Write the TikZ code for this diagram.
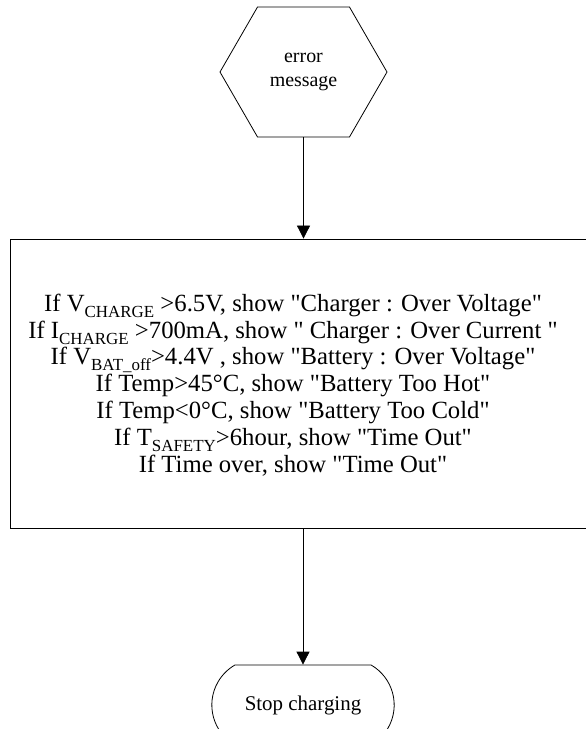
\documentclass[tikz,border=0pt]{standalone}
\usepackage{fontspec}
\setmainfont{Liberation Serif}
\usetikzlibrary{shapes.symbols,shapes.misc,arrows.meta}
\newcommand{\qt}{\textquotedbl}
\newcommand{\lowsub}[1]{\raisebox{-6bp}{\fontsize{17}{17}\selectfont #1}}

\begin{document}
\begin{tikzpicture}[x=1bp,y=-1bp,
    line width=.8bp,
    hexbox/.style={draw, signal, signal to=west and east, signal pointer angle=120,
        minimum width=167bp, minimum height=130bp, inner sep=0pt, align=center,
        font=\fontsize{20}{25}\selectfont},
    listbox/.style={draw, minimum width=600bp, minimum height=289bp, inner sep=0pt},
    endbox/.style={draw, rounded rectangle, rounded rectangle arc length=120,
        minimum width=189bp, minimum height=80bp, font=\fontsize{21}{24}\selectfont},
    flow/.style={-{Triangle[length=13bp,width=13bp]}}]
    \useasboundingbox (0,0) rectangle (586,729);
    \clip (0,0) rectangle (586,729);
    \node[hexbox] (err) at (303.5,72) {\raisebox{-4bp}{error}\\\raisebox{-4bp}{message}};
    \node[listbox] (list) at (310,383.5) {};
    \node[align=center, font=\fontsize{24.8}{27}\selectfont] (cond) at (293,385) {%
        If V\lowsub{CHARGE} >6.5V, show \qt Charger : Over Voltage\qt\\
        If I\lowsub{CHARGE} >700mA, show \qt{} Charger : Over Current \qt\\
        If V\lowsub{BAT\_off}>4.4V , show \qt Battery : Over Voltage\qt\\
        If Temp>45°C, show \qt Battery Too Hot\qt\\
        If Temp<0°C, show \qt Battery Too Cold\qt\\
        If T\lowsub{SAFETY}>6hour, show \qt Time Out\qt\\
        If Time over, show \qt Time Out\qt};
    \node[endbox] (stop) at (303,705) {Stop charging};
    % connectors
    \draw[flow] (err.south) -- (err.south |- list.north);
    \draw[flow] (list.south -| stop.north) -- (stop.north);
\end{tikzpicture}
\end{document}
